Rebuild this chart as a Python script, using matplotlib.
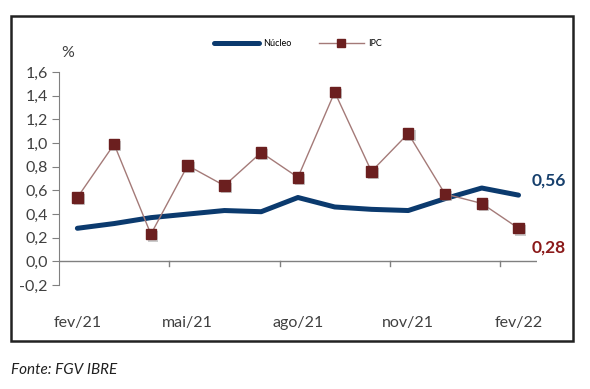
import numpy as np
import matplotlib.pyplot as plt
from matplotlib.patches import Rectangle
import matplotlib.patheffects as pe

plt.rcParams['font.family'] = ['Lato', 'DejaVu Sans']

# data (monthly % change)
months = ['fev/21', 'mar/21', 'abr/21', 'mai/21', 'jun/21', 'jul/21', 'ago/21',
          'set/21', 'out/21', 'nov/21', 'dez/21', 'jan/22', 'fev/22']
nucleo = [0.28, 0.32, 0.37, 0.40, 0.43, 0.42, 0.54, 0.46, 0.44, 0.43, 0.53, 0.62, 0.56]
ipc = [0.54, 0.99, 0.23, 0.81, 0.64, 0.92, 0.71, 1.43, 0.76, 1.08, 0.57, 0.49, 0.28]
shown_labels = ['fev/21', 'mai/21', 'ago/21', 'nov/21', 'fev/22']
yticks = [-0.2, 0.0, 0.2, 0.4, 0.6, 0.8, 1.0, 1.2, 1.4, 1.6]

blue = '#0B3A6E'
red_line = '#A47A78'
red_mark = '#6B1F1F'
txt = '#404040'
grey = '#808080'

fig = plt.figure(figsize=(5.9, 3.89), dpi=100)
ax = fig.add_axes([0.1, 0.267, 0.81, 0.548])

x = np.arange(len(months))
shadow = [pe.SimplePatchShadow(offset=(1.5, -1.5), shadow_rgbFace='#999999', alpha=0.5), pe.Normal()]
nuc_line, = ax.plot(x, nucleo, color=blue, lw=3.6, solid_capstyle='round',
                    label='Núcleo', zorder=2)
ax.plot(x, ipc, color=red_line, lw=1, zorder=3)
ax.plot(x, ipc, ls='none', marker='s', ms=7.5, color=red_mark, zorder=4,
        path_effects=shadow)
# legend proxy
ipc_proxy, = ax.plot([], [], color=red_line, lw=1, marker='s', ms=6,
                     mfc=red_mark, mec=red_mark, label='IPC')

ax.set_xlim(-0.5, len(months) - 0.5)
ax.set_ylim(-0.2, 1.6)
ax.set_yticks(yticks)
ax.set_yticklabels([f'{v:.1f}'.replace('.', ',') for v in yticks], fontsize=11.5, color=txt)
ax.tick_params(axis='y', length=5, color=grey, pad=3)

ax.set_xticks([months.index(m) for m in shown_labels])
ax.set_xticklabels(shown_labels, fontsize=11.5, color=txt)
ax.tick_params(axis='x', length=0, pad=22)

for s in ['top', 'right', 'bottom']:
    ax.spines[s].set_visible(False)
ax.spines['left'].set_color(grey)
ax.axhline(0, color=grey, lw=1, zorder=1)
# category separators hang below the zero line
for xm in [2.5, 5.5, 8.5, 11.5]:
    ax.plot([xm, xm], [0, -0.04], color=grey, lw=1, clip_on=False)

ax.text(-0.45, 1.73, '%', fontsize=11.5, color=txt)

ax.annotate('0,56', (x[-1], nucleo[-1]), xytext=(30, 15), textcoords='offset pixels',
            ha='center', va='center', fontsize=12.5, fontweight='bold', color='#17406D',
            annotation_clip=False)
ax.annotate('0,28', (x[-1], ipc[-1]), xytext=(30, -19), textcoords='offset pixels',
            ha='center', va='center', fontsize=12.5, fontweight='bold', color='#8B1A1A',
            annotation_clip=False)

fig.legend(handles=[nuc_line, ipc_proxy], loc='center', bbox_to_anchor=(0.505, 0.887),
           ncol=2, frameon=False, fontsize=6.5, handlelength=5, columnspacing=3,
           handletextpad=0.5)

fig.patches.append(Rectangle((0.0186, 0.123), 0.952, 0.836, transform=fig.transFigure,
                             fill=False, edgecolor='#222222', lw=1.8))
fig.text(0.019, 0.049, 'Fonte: FGV IBRE', fontsize=11, style='italic', color='#202020',
         va='center')

fig.savefig('out.png', dpi=100)
